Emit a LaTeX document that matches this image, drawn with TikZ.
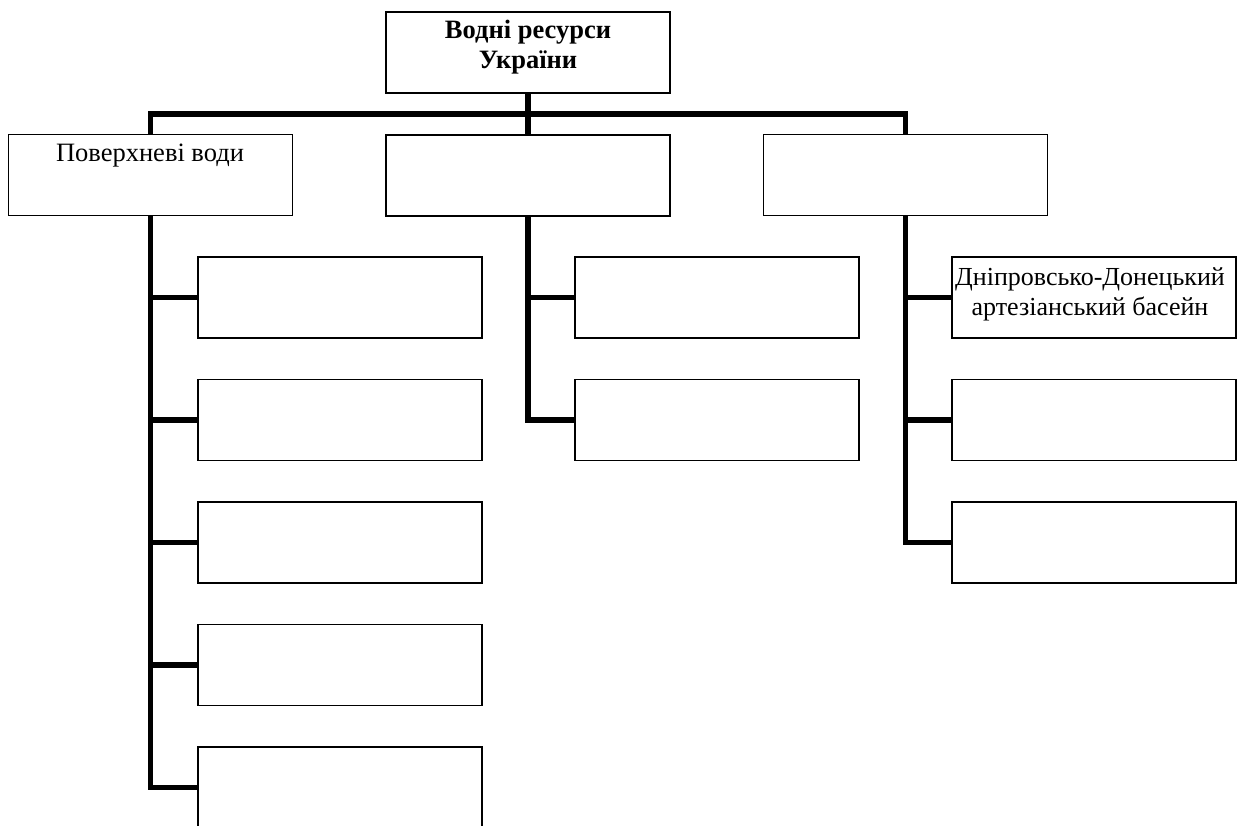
\documentclass[tikz,border=0pt]{standalone}
\usepackage{fontspec}
\setmainfont{Liberation Serif}
\begin{document}
\begin{tikzpicture}[x=1pt,y=-1pt,
  box/.style={draw=black,line width=1.3pt,fill=white,minimum width=284pt,minimum height=81pt,inner sep=0pt,outer sep=0pt},
  conn/.style={line width=5.5pt,draw=black},
  txt/.style={anchor=base,inner sep=0pt,font=\fontsize{26.5}{30}\selectfont}]
\clip (0,0) rectangle (1244,825);
\fill[white] (0,0) rectangle (1244,825);
% top
\node[box] (T) at (528,52.5) {};
% level 2
\node[box] (L) at (150.5,175) {};
\node[box] (M) at (528,175.5) {};
\node[box] (R) at (905.5,175) {};
% left children
\node[box] (L1) at (340,297.5) {};
\node[box] (L2) at (340,420) {};
\node[box] (L3) at (340,542.5) {};
\node[box] (L4) at (340,665) {};
\node[box] (L5) at (340,787.5) {};
% middle children
\node[box] (M1) at (717,297.5) {};
\node[box] (M2) at (717,420) {};
% right children
\node[box] (R1) at (1094,297.5) {};
\node[box] (R2) at (1094,420) {};
\node[box] (R3) at (1094,542.5) {};
\coordinate (bus) at (528,114);
% connectors
\draw[conn] (T.south) -- (M.north);
\draw[conn] (L.north) |- (bus) -| (R.north);
\draw[conn] (L.south) |- (L1.west);
\draw[conn] (L.south) |- (L2.west);
\draw[conn] (L.south) |- (L3.west);
\draw[conn] (L.south) |- (L4.west);
\draw[conn] (L.south) |- (L5.west);
\draw[conn] (M.south) |- (M1.west);
\draw[conn] (M.south) |- (M2.west);
\draw[conn] (R.south) |- (R1.west);
\draw[conn] (R.south) |- (R2.west);
\draw[conn] (R.south) |- (R3.west);
% texts
\node[txt,font=\fontsize{26.5}{30}\selectfont\bfseries] (Tt) at (528,38) {\begin{tabular}[t]{@{}c@{}}Водні ресурси\\України\end{tabular}};
\node[txt] (Lt) at (150,161) {Поверхневі води};
\node[txt,font=\fontsize{26}{30}\selectfont] (R1t) at (1090,285) {\begin{tabular}[t]{@{}c@{}}Дніпровсько-Донецький\\артезіанський басейн\end{tabular}};
\end{tikzpicture}
\end{document}
